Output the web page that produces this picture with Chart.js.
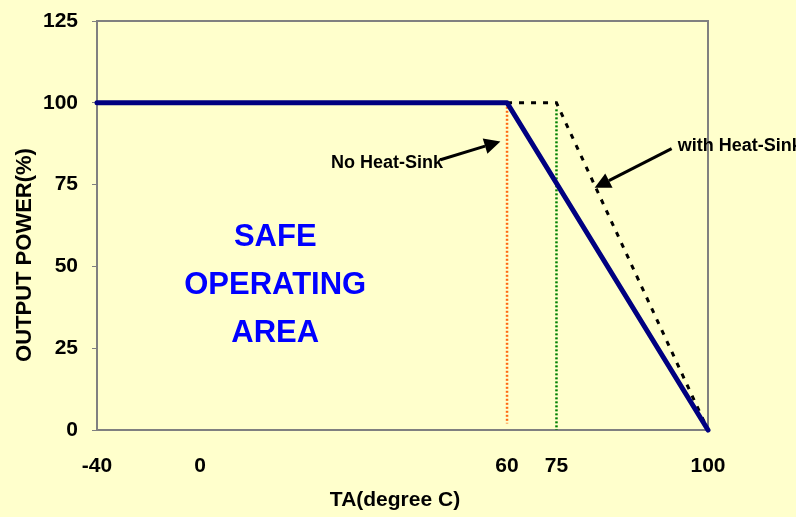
<!DOCTYPE html>
<html>
<head>
<meta charset="utf-8">
<script src="https://cdn.jsdelivr.net/npm/chart.js@4/dist/chart.umd.min.js"></script>
<style>
  html, body { margin: 0; padding: 0; background: #FFFFCC; }
  #wrap { width: 796px; height: 517px; }
</style>
</head>
<body>
<div id="wrap"><canvas id="c" width="796" height="517"></canvas></div>
<script>
// ---------- data ----------
const xTickValues = [-40, 0, 60, 75, 100];
const yTickValues = [0, 25, 50, 75, 100, 125];

const noSinkTemp  = [-40, 60, 100];
const noSinkPower = [100, 100, 0];

const withSinkTemp  = [60, 75, 100];
const withSinkPower = [100, 100, 0];

const orangeMarkTemp  = [60, 60];
const orangeMarkPower = [100, 2];

const greenMarkTemp  = [75, 75];
const greenMarkPower = [98, 0];

// ---------- non-uniform x axis (layout of the original, where ticks are not evenly spaced) ----------
const X_BREAK_FRACTIONS = [0, 0.1686, 0.6711, 0.7520, 1];

class PiecewiseScale extends Chart.LinearScale {
  getPixelForValue(value) {
    const b = xTickValues, f = X_BREAK_FRACTIONS;
    let i = 0;
    while (i < b.length - 2 && value > b[i + 1]) i++;
    const d = f[i] + (value - b[i]) / (b[i + 1] - b[i]) * (f[i + 1] - f[i]);
    return this.getPixelForDecimal(d);
  }
  getValueForPixel(pixel) {
    const b = xTickValues, f = X_BREAK_FRACTIONS;
    const d = this.getDecimalForPixel(pixel);
    let i = 0;
    while (i < f.length - 2 && d > f[i + 1]) i++;
    return b[i] + (d - f[i]) / (f[i + 1] - f[i]) * (b[i + 1] - b[i]);
  }
}
PiecewiseScale.id = 'piecewise';
PiecewiseScale.defaults = Chart.LinearScale.defaults;
Chart.register(PiecewiseScale);

const pts = (xs, ys) => xs.map((x, i) => ({ x: x, y: ys[i] }));

const FONT = '"Liberation Sans", Arial, sans-serif';

// annotations in data coordinates
const annotations = {
  safe: { x: 14.7, lines: [['SAFE', 58.9], ['OPERATING', 44.3], ['AREA', 29.6]] },
  noSinkLabel: { text: 'No Heat-Sink', x: 25.6, y: 81.6 },
  noSinkArrow: { from: [47.0, 82.6], to: [58.7, 88.2] },
  withSinkLabel: { text: 'with Heat-Sink', x: 95.0, y: 86.9 },
  withSinkArrow: { from: [94.0, 86.0], to: [81.3, 74.0] }
};

function arrow(ctx, x1, y1, x2, y2) {
  const ang = Math.atan2(y2 - y1, x2 - x1);
  const hl = 16, hw = 8;
  const bx = x2 - hl * Math.cos(ang), by = y2 - hl * Math.sin(ang);
  ctx.beginPath();
  ctx.moveTo(x1, y1);
  ctx.lineTo(bx, by);
  ctx.strokeStyle = '#000';
  ctx.lineWidth = 3;
  ctx.stroke();
  ctx.beginPath();
  ctx.moveTo(x2, y2);
  ctx.lineTo(bx + hw * Math.sin(ang), by - hw * Math.cos(ang));
  ctx.lineTo(bx - hw * Math.sin(ang), by + hw * Math.cos(ang));
  ctx.closePath();
  ctx.fillStyle = '#000';
  ctx.fill();
}

const decor = {
  id: 'decor',
  beforeDatasetsDraw(chart) {
    const { ctx, chartArea: a } = chart;
    ctx.save();
    ctx.strokeStyle = '#808080';
    ctx.lineWidth = 2;
    ctx.beginPath();
    ctx.moveTo(a.left, a.top);
    ctx.lineTo(a.right, a.top);
    ctx.lineTo(a.right, a.bottom);
    ctx.stroke();
    ctx.restore();
  },
  afterDraw(chart) {
    const { ctx } = chart;
    const xs = chart.scales.x, ys = chart.scales.y;
    const px = v => xs.getPixelForValue(v), py = v => ys.getPixelForValue(v);
    ctx.save();
    // SAFE OPERATING AREA
    ctx.fillStyle = '#0000FF';
    ctx.font = 'bold 31px ' + FONT;
    ctx.textAlign = 'center';
    ctx.textBaseline = 'middle';
    annotations.safe.lines.forEach(([t, y]) => ctx.fillText(t, px(annotations.safe.x), py(y)));
    // labels
    ctx.fillStyle = '#000';
    ctx.font = 'bold 18px ' + FONT;
    ctx.textAlign = 'left';
    ctx.fillText(annotations.noSinkLabel.text, px(annotations.noSinkLabel.x), py(annotations.noSinkLabel.y));
    ctx.fillText(annotations.withSinkLabel.text, px(annotations.withSinkLabel.x), py(annotations.withSinkLabel.y));
    // arrows
    const a1 = annotations.noSinkArrow, a2 = annotations.withSinkArrow;
    arrow(ctx, px(a1.from[0]), py(a1.from[1]), px(a1.to[0]), py(a1.to[1]));
    arrow(ctx, px(a2.from[0]), py(a2.from[1]), px(a2.to[0]), py(a2.to[1]));
    // axis titles
    ctx.font = 'bold 21px ' + FONT;
    ctx.textAlign = 'center';
    ctx.fillText('TA(degree C)', 395, 500);
    ctx.translate(25, 255);
    ctx.rotate(-Math.PI / 2);
    ctx.font = 'bold 22px ' + FONT;
    ctx.fillText('OUTPUT POWER(%)', 0, 0);
    ctx.restore();
  }
};

new Chart(document.getElementById('c'), {
  type: 'line',
  data: {
    datasets: [
      { data: pts(noSinkTemp, noSinkPower), borderColor: '#000080', borderWidth: 5,
        borderCapStyle: 'round', borderJoinStyle: 'round', pointRadius: 0, order: 0, clip: false },
      { data: pts(withSinkTemp, withSinkPower), borderColor: '#000000', borderWidth: 3,
        borderDash: [5, 7], pointRadius: 0, order: 1, clip: false },
      { data: pts(orangeMarkTemp, orangeMarkPower), borderColor: '#FF6A13', borderWidth: 2.5,
        borderDash: [2, 2], pointRadius: 0, order: 2, clip: false },
      { data: pts(greenMarkTemp, greenMarkPower), borderColor: '#008000', borderWidth: 2.5,
        borderDash: [2, 2], pointRadius: 0, order: 3, clip: false }
    ]
  },
  options: {
    responsive: false,
    animation: false,
    events: [],
    layout: { padding: { top: 21, right: 88, left: 0, bottom: 0 } },
    plugins: { legend: { display: false }, tooltip: { enabled: false } },
    scales: {
      x: {
        type: 'piecewise',
        min: -40, max: 100,
        afterBuildTicks: s => { s.ticks = xTickValues.map(v => ({ value: v })); },
        afterFit: s => { s.height = 87; },
        grid: { display: false, drawTicks: false },
        border: { display: true, color: '#808080', width: 2 },
        ticks: { color: '#000', font: { family: FONT, size: 21, weight: 'bold' }, padding: 24, maxRotation: 0, autoSkip: false }
      },
      y: {
        min: 0, max: 125,
        afterBuildTicks: s => { s.ticks = yTickValues.map(v => ({ value: v })); },
        afterFit: s => { s.width = 97; s.paddingTop = 0; s.paddingBottom = 0; },
        grid: { display: true, drawOnChartArea: false, drawTicks: true, tickLength: 5, color: '#808080', lineWidth: 1 },
        border: { display: true, color: '#808080', width: 2 },
        ticks: { color: '#000', font: { family: FONT, size: 21, weight: 'bold' }, padding: 14 }
      }
    }
  },
  plugins: [decor]
});
</script>
</body>
</html>
